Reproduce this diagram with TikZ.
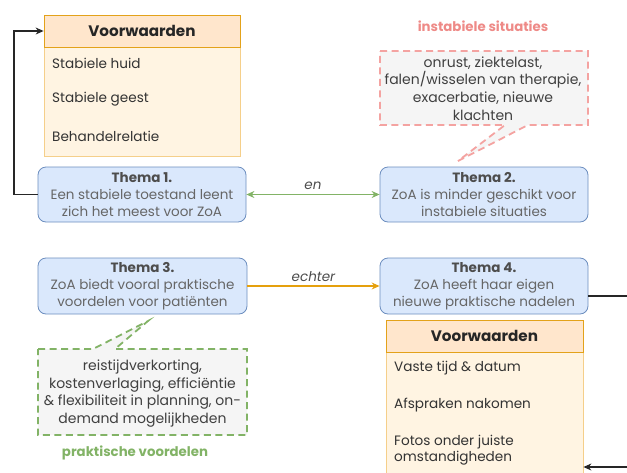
\documentclass[tikz,border=0pt]{standalone}
\usepackage{fontspec}
\setmainfont{Poppins}
\usetikzlibrary{arrows.meta}
\definecolor{bluefill}{HTML}{DAE8FC}
\definecolor{bluedraw}{HTML}{6C8EBF}
\definecolor{greytext}{HTML}{666666}
\definecolor{darkgrey}{HTML}{4D4D4D}
\definecolor{hdrfill}{HTML}{FFE6CC}
\definecolor{hdrdraw}{HTML}{E3A21A}
\definecolor{bodyfill}{HTML}{FFF4E2}
\definecolor{bodydraw}{HTML}{F5CF8A}
\definecolor{pinkline}{HTML}{F4A3A1}
\definecolor{pinktitle}{HTML}{EE8A87}
\definecolor{greenline}{HTML}{82B366}
\definecolor{greentitle}{HTML}{82B366}
\definecolor{calloutfill}{HTML}{F5F5F5}
\definecolor{orangeline}{HTML}{E5A00D}
\begin{document}
\begin{tikzpicture}[x=1pt,y=-1pt,
  thema/.style={draw=bluedraw, fill=bluefill, rounded corners=8pt, line width=0.8pt,
    minimum width=208pt, minimum height=55pt, inner sep=0pt, align=center,
    text=greytext, font=\fontsize{13.5}{17}\selectfont},
  hdr/.style={draw=hdrdraw, fill=hdrfill, line width=0.8pt, minimum width=196pt,
    minimum height=32pt, inner sep=0pt, font=\fontsize{15.2}{17}\selectfont\bfseries, text=black!85},
  body/.style={draw=bodydraw, fill=bodyfill, line width=0.8pt, minimum width=196pt, inner sep=0pt},
  item/.style={anchor=west, inner sep=0pt, align=left, text=black!80,
    font=\fontsize{13.6}{16.5}\selectfont},
  callout/.style={dashed, dash pattern=on 7pt off 4.5pt, line width=1.8pt, fill=calloutfill},
  ctext/.style={align=center, inner sep=0pt, text=black!75, font=\fontsize{14}{17.7}\selectfont},
  ctitle/.style={inner sep=0pt, font=\fontsize{13.3}{15}\selectfont\bfseries},
  elabel/.style={inner sep=1pt, font=\fontsize{13.5}{15}\selectfont\itshape, text=black!70},
  blk/.style={draw=black!85, line width=1.1pt, -{Stealth[length=8pt,width=7pt]}},
]
\useasboundingbox (0,0) rectangle (627,472);
\clip (0,0) rectangle (627,472);

% callouts (drawn first)
\path[callout, draw=pinkline] (380,51) -- (588,51) -- (588,125) -- (528,125) -- (458,161) -- (505,125) -- (380,125) -- cycle;
\path[callout, draw=greenline] (38,349) -- (93,349) -- (148,321) -- (115,349) -- (247,349) -- (247,435) -- (38,435) -- cycle;

% top Voorwaarden
\node[body, minimum height=110pt] (vw1b) at (142,101) {};
\node[hdr] (vw1h) at (142,31) {Voorwaarden};
\node[item] (vw1i1) at (52,63) {Stabiele huid};
\node[item] (vw1i2) at (52,99) {Stabiele geest};
\node[item] (vw1i3) at (52,136) {Behandelrelatie};

% bottom Voorwaarden
\node[body, minimum height=140pt, minimum width=197pt] (vw2b) at (484.5,422) {};
\node[hdr, minimum width=197pt] (vw2h) at (484.5,336) {Voorwaarden};
\node[item] (vw2i1) at (394,368) {Vaste tijd \& datum};
\node[item] (vw2i2) at (394,405) {Afspraken nakomen};
\node[item] (vw2i3) at (394,450) {Fotos onder juiste\\omstandigheden};

% themes
\node[thema] (t1) at (142,194.5) {\textcolor{darkgrey}{\bfseries Thema 1.}\\Een stabiele toestand leent\\zich het meest voor ZoA};
\node[thema] (t2) at (484,194.5) {\textcolor{darkgrey}{\bfseries Thema 2.}\\ZoA is minder geschikt voor\\instabiele situaties};
\node[thema, minimum width=209pt, minimum height=56pt] (t3) at (142.5,286) {\textcolor{darkgrey}{\bfseries Thema 3.}\\ZoA biedt vooral praktische\\voordelen voor pati\"enten};
\node[thema, minimum height=56pt] (t4) at (484,286) {\textcolor{darkgrey}{\bfseries Thema 4.}\\ZoA heeft haar eigen\\nieuwe praktische nadelen};

% callout texts
\node[ctitle, text=pinktitle] (pt) at (483,26) {instabiele situaties};
\node[ctext] (pc) at (483,88.5) {onrust, ziektelast,\\falen/wisselen van therapie,\\exacerbatie, nieuwe\\klachten};
\node[ctext] (gc) at (142.5,393.5) {reistijdverkorting,\\kostenverlaging, effici\"entie\\\& flexibiliteit in planning, on-\\demand mogelijkheden};
\node[ctitle, text=greentitle] (gt) at (135,453) {praktische voordelen};

% connectors
\draw[blk] (t1.west) -- (14,194.5) |- (vw1h.west);
\draw[greenline, line width=1.1pt, {Stealth[length=8pt,width=7pt]}-{Stealth[length=8pt,width=7pt]}] (t1.east) -- node[elabel, above=3pt] (en) {en} (t2.west);
\draw[orangeline, line width=1.1pt, -{Stealth[length=8pt,width=7pt]}] (t3.east) -- node[elabel, above=3pt] (ech) {echter} (t4.west);
\coordinate (lp1) at (645,296);
\coordinate (lp2) at (645,467);
\draw[blk] (t4.east |- lp1) -- (lp1) -- (lp2) -- (lp2 -| vw2b.east);
\end{tikzpicture}
\end{document}
